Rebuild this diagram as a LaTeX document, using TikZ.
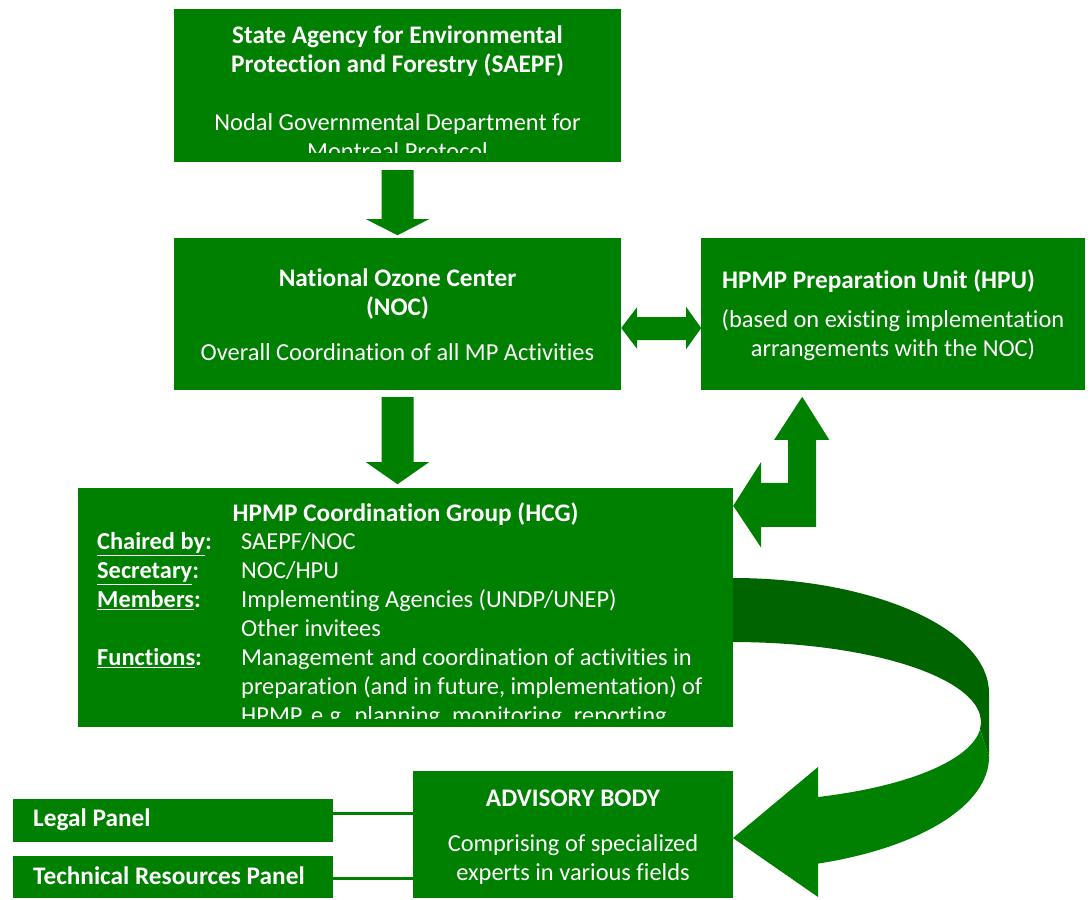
\documentclass[tikz,border=0pt]{standalone}
\usepackage{fontspec}
\setmainfont{Carlito}[Ligatures=NoCommon]
\usetikzlibrary{calc}
\definecolor{boxgreen}{RGB}{0,128,0}
\definecolor{darkgreen}{RGB}{0,100,0}
\newcommand{\hdg}[1]{{\fontsize{25.3}{29}\selectfont\bfseries #1}}
\newcommand{\rowlabel}[1]{\makebox[144pt][l]{\bfseries\underline{#1}:}}
\tikzset{
  greenbox/.style={fill=boxgreen, draw=none, inner sep=0pt},
  boxtext/.style={text=white, font=\fontsize{24.4}{29}\selectfont, align=center, inner sep=0pt},
  blockfill/.style={fill=boxgreen},
  link/.style={draw=boxgreen, line width=3pt},
}
\begin{document}
\begin{tikzpicture}[x=1pt,y=-1pt]
\useasboundingbox (0,0) rectangle (1091,899);
% boxes
\node[greenbox, minimum width=447pt, minimum height=153pt] (saepf) at (397.5,85.5) {};
\node[greenbox, minimum width=447pt, minimum height=152pt] (noc) at (397.5,314) {};
\node[greenbox, minimum width=384pt, minimum height=152pt] (hpu) at (893,314) {};
\node[greenbox, minimum width=655pt, minimum height=239pt] (hcg) at (405.5,607.5) {};
\node[greenbox, minimum width=320pt, minimum height=127pt] (advisory) at (573,834.5) {};
\node[greenbox, minimum width=320pt, minimum height=43pt] (legal) at (173,820.5) {};
\node[greenbox, minimum width=320pt, minimum height=42pt] (tech) at (173,877) {};
% box texts
\begin{scope}
\clip (saepf.north west) rectangle ($(saepf.south east)+(0,-10)$);
\node[boxtext] (saepftxt) at ($(saepf.center)+(0,7)$) {\hdg{State Agency for Environmental}\\
  \hdg{Protection and Forestry (SAEPF)}\\[29pt]
  Nodal Governmental Department for\\ Montreal Protocol};
\end{scope}
\node[boxtext] (noctxt) at (397.5,315) {\hdg{National Ozone Center}\\ \hdg{(NOC)}\\[16pt]
  Overall Coordination of all MP Activities};
\node[boxtext, anchor=west] (hputitle) at (722,281) {\hdg{HPMP Preparation Unit (HPU)}};
\node[boxtext] (hputxt) at (893,335) {(based on existing implementation\\ arrangements with the NOC)};
\node[boxtext] (hcgtitle) at (405.5,514) {\hdg{HPMP Coordination Group (HCG)}};
\begin{scope}
\clip (hcg.north west) rectangle ($(hcg.south east)+(0,-9)$);
\node[boxtext, align=left, anchor=west] (hcgtxt) at (97,630) {%
  \rowlabel{Chaired by}SAEPF/NOC\\
  \rowlabel{Secretary}NOC/HPU\\
  \rowlabel{Members}Implementing Agencies (UNDP/UNEP)\\
  \hspace*{144pt}Other invitees\\
  \rowlabel{Functions}Management and coordination of activities in\\
  \hspace*{144pt}preparation (and in future, implementation) of\\
  \hspace*{144pt}HPMP, e.g. planning, monitoring, reporting};
\end{scope}
\node[boxtext] (advtxt) at (573,837.5) {\hdg{ADVISORY BODY}\\[16pt]
  Comprising of specialized\\ experts in various fields};
\node[boxtext, anchor=west] (legaltxt) at (33,820) {\hdg{Legal Panel}};
\node[boxtext, anchor=west] (techtxt) at (33,876) {\hdg{Technical Resources Panel}};
% block arrows
\fill[blockfill] ($(saepf.south)+(-16,8)$) -- ++(32,0) -- ++(0,49) -- ++(15.5,0)
  -- ++(-31.5,16) -- ++(-31.5,-16) -- ++(15.5,0) -- cycle;
\fill[blockfill] ($(noc.south)+(-16,7)$) -- ++(32,0) -- ++(0,65) -- ++(15.5,0)
  -- ++(-31.5,22) -- ++(-31.5,-22) -- ++(15.5,0) -- cycle;
\fill[blockfill] ($(noc.east)+(0,14)$) -- ++(16,-21) -- ++(0,10) -- ++(49,0) -- ++(0,-10)
  -- ++(15,21) -- ++(-15,21) -- ++(0,-9) -- ++(-49,0) -- ++(0,9) -- cycle;
\fill[blockfill] ($(hcg.north east)+(0,18)$) -- ++(28,-44) -- ++(0,21) -- ++(27,0) -- ++(0,-43)
  -- ++(-14,0) -- ++(28,-43) -- ++(27,43) -- ++(-13,0) -- ++(0,87) -- ++(-55,0) -- ++(0,21) -- cycle;
% curved arrow from hcg down to advisory
\fill[darkgreen] (733,578) arc[start angle=-90, end angle=0, x radius=256, y radius=115]
  -- (989,757) -- (980,729) arc[start angle=5, end angle=-90, x radius=248, y radius=80] -- cycle;
\fill[boxgreen] (980,729) -- (989,757) arc[start angle=0, end angle=70.6, x radius=256, y radius=113]
  -- (818,897) -- (733,838) -- (818,767) -- (818,797)
  arc[start angle=70, end angle=5, x radius=248, y radius=80] -- cycle;
% panel links
\draw[link] ($(legal.east)+(0,-7)$) -- ($(legal.east -| advisory.west)+(0,-7)$);
\draw[link] ($(tech.east)+(0,1)$) -- ($(tech.east -| advisory.west)+(0,1)$);
\end{tikzpicture}
\end{document}
